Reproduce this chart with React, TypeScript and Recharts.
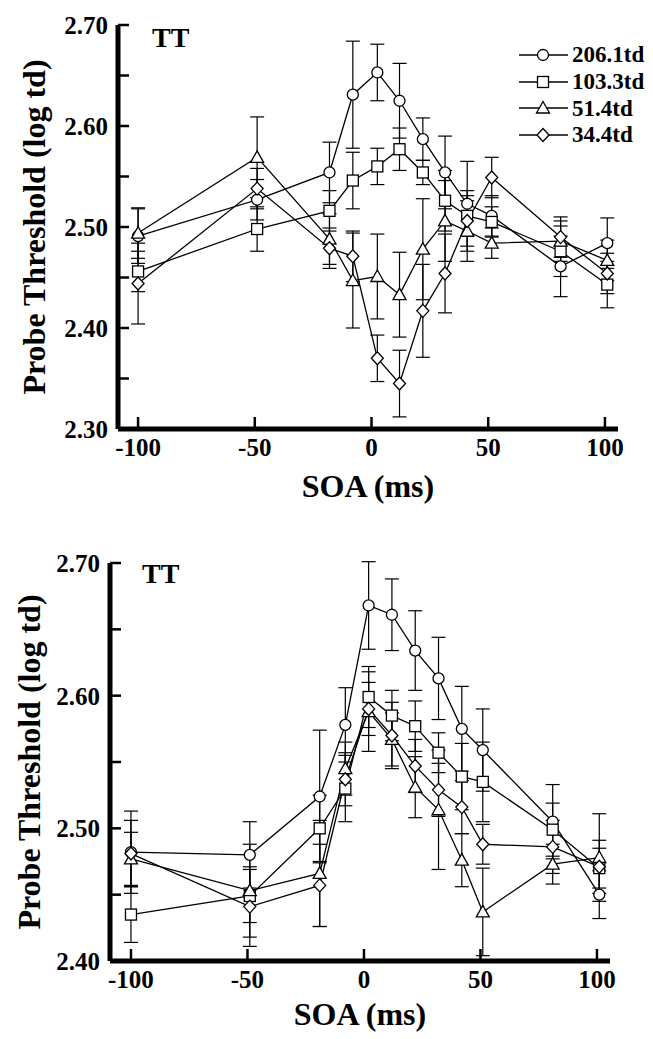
import React from 'react';
import { LineChart, Line, XAxis, YAxis, ErrorBar, Legend } from 'recharts';

const FONT = '"Liberation Serif", "Times New Roman", Times, serif';

// Series
const seriesNames = ['206.1td', '103.3td', '51.4td', '34.4td'];
const seriesShapes = ['circle', 'square', 'triangle', 'diamond'];

// Top panel
const soaTop = [-100, -49, -18, -8, 2.5, 12, 22, 31.5, 41, 51.5, 81, 101];
const top206 = [2.491, 2.527, 2.554, 2.631, 2.653, 2.625, 2.587, 2.554, 2.523, 2.511, 2.461, 2.484];
const top206Err = [0.027, 0.02, 0.03, 0.053, 0.028, 0.037, 0.021, 0.036, 0.042, 0.02, 0.03, 0.025];
const top103 = [2.456, 2.498, 2.516, 2.546, 2.56, 2.577, 2.554, 2.526, 2.511, 2.505, 2.476, 2.443];
const top103Err = [0.02, 0.022, 0.02, 0.028, 0.018, 0.021, 0.012, 0.03, 0.02, 0.015, 0.025, 0.023];
const top51 = [2.494, 2.569, 2.488, 2.447, 2.451, 2.433, 2.478, 2.506, 2.496, 2.484, 2.486, 2.467];
const top51Err = [0.025, 0.04, 0.025, 0.047, 0.042, 0.042, 0.05, 0.04, 0.03, 0.015, 0.02, 0.02];
const top34 = [2.444, 2.538, 2.479, 2.471, 2.37, 2.345, 2.417, 2.454, 2.506, 2.549, 2.49, 2.454];
const top34Err = [0.04, 0.02, 0.02, 0.025, 0.023, 0.033, 0.046, 0.039, 0.03, 0.02, 0.02, 0.02];

// Bottom panel
const soaBottom = [-100, -49, -19, -8, 2, 12, 22, 32, 42, 51, 81, 101];
const bot206 = [2.482, 2.48, 2.524, 2.578, 2.668, 2.661, 2.634, 2.613, 2.575, 2.559, 2.505, 2.45];
const bot206Err = [0.031, 0.025, 0.05, 0.028, 0.033, 0.027, 0.03, 0.031, 0.032, 0.031, 0.028, 0.018];
const bot103 = [2.435, 2.449, 2.5, 2.53, 2.599, 2.585, 2.577, 2.557, 2.539, 2.535, 2.499, 2.47];
const bot103Err = [0.021, 0.02, 0.025, 0.025, 0.023, 0.019, 0.019, 0.015, 0.025, 0.03, 0.02, 0.015];
const bot51 = [2.477, 2.453, 2.466, 2.545, 2.588, 2.567, 2.531, 2.514, 2.476, 2.437, 2.473, 2.478];
const bot51Err = [0.02, 0.035, 0.04, 0.02, 0.03, 0.02, 0.023, 0.045, 0.02, 0.033, 0.015, 0.033];
const bot34 = [2.481, 2.441, 2.457, 2.537, 2.59, 2.57, 2.547, 2.529, 2.516, 2.488, 2.486, 2.471];
const bot34Err = [0.025, 0.03, 0.031, 0.02, 0.02, 0.025, 0.02, 0.02, 0.02, 0.015, 0.02, 0.02];

// Ticks
const xTicks = [-100, -50, 0, 50, 100];
const yTicksTop = [2.3, 2.35, 2.4, 2.45, 2.5, 2.55, 2.6, 2.65, 2.7];
const yTicksBottom = [2.4, 2.45, 2.5, 2.55, 2.6, 2.65, 2.7];

const build = (xs: number[], ys: number[], es: number[]) =>
  xs.map((x, i) => ({ soa: x, v: ys[i], e: es[i] }));

const topSeries = [
  build(soaTop, top206, top206Err),
  build(soaTop, top103, top103Err),
  build(soaTop, top51, top51Err),
  build(soaTop, top34, top34Err),
];
const bottomSeries = [
  build(soaBottom, bot206, bot206Err),
  build(soaBottom, bot103, bot103Err),
  build(soaBottom, bot51, bot51Err),
  build(soaBottom, bot34, bot34Err),
];

const MarkerShape = ({ shape, cx, cy }: { shape: string; cx: number; cy: number }) => {
  const common = { stroke: '#000', strokeWidth: 1.3, fill: '#fff' };
  if (cx == null || cy == null) return null;
  switch (shape) {
    case 'circle':
      return <circle cx={cx} cy={cy} r={5.5} {...common} />;
    case 'square':
      return <rect x={cx - 5.5} y={cy - 5.5} width={11} height={11} {...common} />;
    case 'triangle':
      return (
        <polygon
          points={`${cx},${cy - 6.5} ${cx + 6.5},${cy + 5} ${cx - 6.5},${cy + 5}`}
          {...common}
        />
      );
    default:
      return (
        <polygon
          points={`${cx},${cy - 6.5} ${cx + 6},${cy} ${cx},${cy + 6.5} ${cx - 6},${cy}`}
          {...common}
        />
      );
  }
};

const makeDot = (shape: string) => (props: any) => (
  <MarkerShape key={`${shape}-${props.index}`} shape={shape} cx={props.cx} cy={props.cy} />
);

const tickStyle = { fill: '#000', fontSize: 25, fontWeight: 700, fontFamily: FONT };

const yFmt = (v: number) => (Math.round(v * 100) % 10 === 0 ? v.toFixed(2) : '');

const YTitle = (dx: number) => (props: any) => {
  const vb = props.viewBox || {};
  const cx = vb.x + vb.width - dx;
  const cy = vb.y + vb.height / 2;
  return (
    <text
      x={cx}
      y={cy}
      transform={`rotate(-90 ${cx} ${cy})`}
      textAnchor="middle"
      dominantBaseline="central"
      fill="#000"
      fontSize={32}
      fontWeight={700}
      fontFamily={FONT}
    >
      Probe Threshold (log td)
    </text>
  );
};

const LegendContent = () => (
  <div style={{ fontFamily: FONT, fontWeight: 700, fontSize: 23, color: '#000' }}>
    {seriesNames.map((name, i) => (
      <div key={name} style={{ display: 'flex', alignItems: 'center', height: 26.7 }}>
        <svg width={53} height={20} style={{ display: 'block' }}>
          <line x1={0} y1={10} x2={49} y2={10} stroke="#000" strokeWidth={1.5} />
          <MarkerShape shape={seriesShapes[i]} cx={24} cy={10} />
        </svg>
        <span style={{ lineHeight: '23px' }}>{name}</span>
      </div>
    ))}
  </div>
);

type PanelProps = {
  series: { soa: number; v: number; e: number }[][];
  yDomain: [number, number];
  yTicks: number[];
  xDomain: [number, number];
  width: number;
  height: number;
  margin: { top: number; right: number; bottom: number; left: number };
  titleOffset: number;
  yTitleDx: number;
  legend?: boolean;
};

const Panel = (p: PanelProps) => (
  <LineChart width={p.width} height={p.height} margin={p.margin}>
    <XAxis
      dataKey="soa"
      type="number"
      domain={p.xDomain}
      ticks={xTicks}
      allowDataOverflow
      height={1}
      interval={0}
      axisLine={{ stroke: '#000', strokeWidth: 5 }}
      tickLine={{ stroke: '#000', strokeWidth: 2.5 }}
      tickSize={-12}
      tickMargin={21}
      tick={tickStyle}
      label={{
        value: 'SOA (ms)',
        position: 'bottom',
        offset: p.titleOffset,
        fill: '#000',
        fontSize: 32,
        fontWeight: 700,
        fontFamily: FONT,
      }}
    />
    <YAxis
      type="number"
      domain={p.yDomain}
      ticks={p.yTicks}
      allowDataOverflow
      width={1}
      interval={0}
      tickFormatter={yFmt}
      axisLine={{ stroke: '#000', strokeWidth: 5 }}
      tickLine={{ stroke: '#000', strokeWidth: 2.5 }}
      tickSize={-11}
      tickMargin={21}
      tick={tickStyle}
      label={{ content: YTitle(p.yTitleDx) }}
    />
    {p.legend && (
      <Legend
        layout="vertical"
        align="center"
        verticalAlign="middle"
        content={<LegendContent />}
        wrapperStyle={{ position: 'absolute', left: 519, top: 41.5, width: 134, height: 110 }}
      />
    )}
    {p.series.map((data, i) => (
      <Line
        key={seriesNames[i]}
        data={data}
        dataKey="v"
        name={seriesNames[i]}
        stroke="#000"
        strokeWidth={1.3}
        isAnimationActive={false}
        dot={makeDot(seriesShapes[i])}
        activeDot={false}
      >
        <ErrorBar dataKey="e" width={7} stroke="#000" strokeWidth={1.2} direction="y" isAnimationActive={false} />
      </Line>
    ))}
  </LineChart>
);

export default function App() {
  return (
    <div style={{ position: 'absolute', left: 0, top: 0, width: 653, height: 1039, background: '#fff' }}>
      <div style={{ position: 'absolute', left: 0, top: 0 }}>
        <Panel
          series={topSeries}
          yDomain={[2.3, 2.7]}
          yTicks={yTicksTop}
          xDomain={[-108.6, 105.6]}
          width={653}
          height={520}
          margin={{ top: 25, right: 35, bottom: 90, left: 117 }}
          titleOffset={44}
          yTitleDx={84}
          legend
        />
      </div>
      <div style={{ position: 'absolute', left: 0, top: 520 }}>
        <Panel
          series={bottomSeries}
          yDomain={[2.4, 2.7]}
          yTicks={yTicksBottom}
          xDomain={[-109, 105.6]}
          width={653}
          height={519}
          margin={{ top: 43, right: 43, bottom: 77, left: 109 }}
          titleOffset={40}
          yTitleDx={81}
        />
      </div>
      <svg
        width={653}
        height={1039}
        style={{ position: 'absolute', left: 0, top: 0, pointerEvents: 'none' }}
      >
        <text x={152} y={47} fontSize={28} fontWeight={700} fontFamily={FONT} fill="#000">
          TT
        </text>
        <text x={142} y={583} fontSize={28} fontWeight={700} fontFamily={FONT} fill="#000">
          TT
        </text>
      </svg>
    </div>
  );
}
